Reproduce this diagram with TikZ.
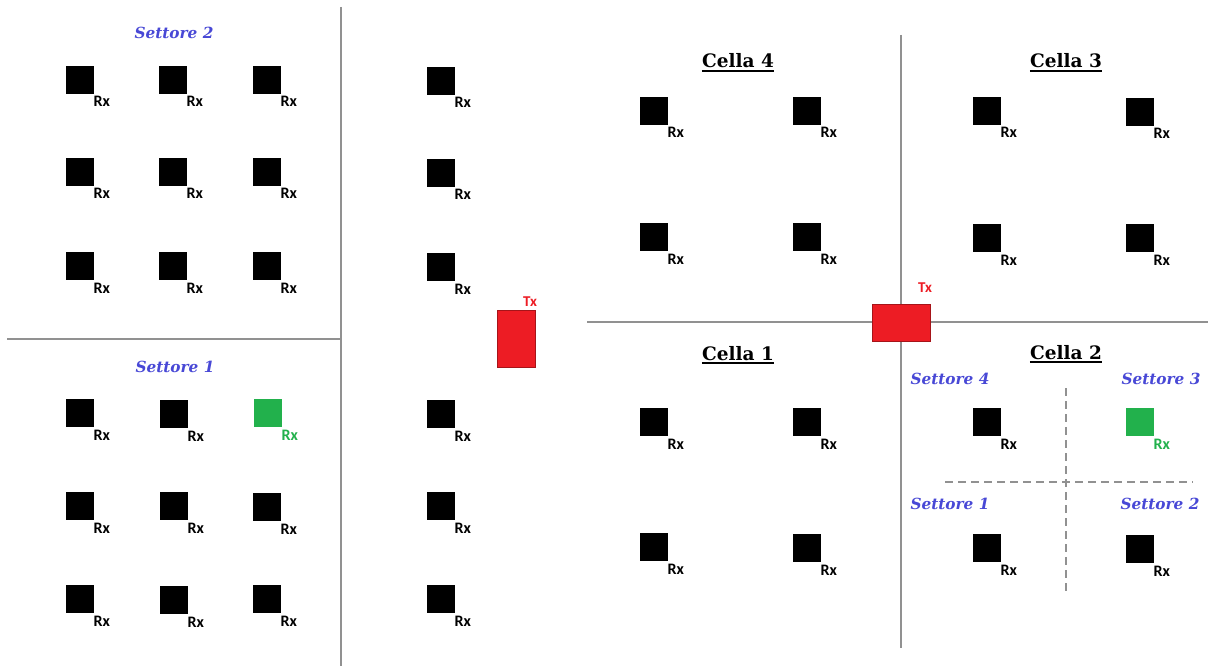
\documentclass[tikz,border=0pt]{standalone}
\usepackage{fontspec}
\newfontfamily\labelfont{Carlito}
\newfontfamily\titlefont{DejaVu Serif}

\definecolor{rxgreen}{RGB}{34,177,76}
\definecolor{txred}{RGB}{237,28,36}
\definecolor{sectblue}{RGB}{72,72,214}
\definecolor{divider}{RGB}{145,145,145}

\tikzset{
  rxbox/.style={fill=black, draw=black, line width=0.4pt, minimum size=27pt,
    inner sep=0pt, outer sep=0pt, anchor=north west},
  rxtag/.style={font=\labelfont\bfseries\fontsize{16}{16}\selectfont,
    inner sep=0pt, anchor=base west},
  txbox/.style={fill=txred, draw=txred!70!black, line width=0.6pt,
    inner sep=0pt, outer sep=0pt, anchor=north west},
  txtag/.style={font=\labelfont\bfseries\fontsize{15}{15}\selectfont,
    text=txred, inner sep=0pt, anchor=base west},
  celltitle/.style={font=\titlefont\bfseries\fontsize{18.5}{18.5}\selectfont,
    inner sep=0pt, anchor=base},
  titlerule/.style={line width=1.8pt},
  sectortitle/.style={font=\titlefont\bfseries\itshape\fontsize{15.3}{15.3}\selectfont,
    text=sectblue, inner sep=0pt, anchor=base},
  divline/.style={draw=divider, line width=1.4pt},
  sectline/.style={draw=divider, line width=1.2pt, dash pattern=on 8pt off 5pt},
}

% receiver: name, left, top, colour
\newcommand\receiver[4]{%
  \node[rxbox, fill=#4, draw=#4] (#1) at (#2,#3) {};
  \node[rxtag, text=#4] (#1-tag) at ([xshift=0.5pt,yshift=-14pt]#1.south east) {Rx};
}

% underlined cell title: name, centre x, baseline y, text
\newcommand\celltitle[4]{%
  \node[celltitle] (#1) at (#2,#3) {#4};
  \draw[titlerule] ([yshift=-3pt]#1.base west) -- ([yshift=-3pt]#1.base east);
}

\begin{document}
\begin{tikzpicture}[x=1pt, y=-1pt]
\useasboundingbox[fill=white] (0,0) rectangle (1208,666);

% ---------- dividers ----------
\coordinate (lv-top) at (341,7);
\coordinate (lv-bot) at (341,666);
\coordinate (lh-left) at (7,339);
\coordinate (lh-right) at (341,339);
\coordinate (rv-top) at (901,35);
\coordinate (rv-bot) at (901,648);
\coordinate (rh-left) at (587,322);
\coordinate (rh-right) at (1208,322);
\draw[divline] (lv-top) -- (lv-bot);
\draw[divline] (lh-left) -- (lh-right);
\draw[divline] (rv-top) -- (rv-bot);
\draw[divline] (rh-left) -- (rh-right);

% sector split inside Cella 2
\coordinate (sv-top) at (1066,388);
\coordinate (sv-bot) at (1066,593);
\coordinate (sh-left) at (945,482);
\coordinate (sh-right) at (1193,482);
\draw[sectline] (sv-top) -- (sv-bot);
\draw[sectline] (sh-left) -- (sh-right);

% ---------- left panel: two sectors ----------
\node[sectortitle] (s2) at (174,39) {Settore 2};
\node[sectortitle] (s1) at (175,372) {Settore 1};

\receiver{a11}{66}{66}{black}
\receiver{a12}{159}{66}{black}
\receiver{a13}{253}{66}{black}
\receiver{a21}{66}{158}{black}
\receiver{a22}{159}{158}{black}
\receiver{a23}{253}{158}{black}
\receiver{a31}{66}{252}{black}
\receiver{a32}{159}{252}{black}
\receiver{a33}{253}{252}{black}

\receiver{b11}{66}{399}{black}
\receiver{b12}{160}{400}{black}
\receiver{b13}{254}{399}{rxgreen}
\receiver{b21}{66}{492}{black}
\receiver{b22}{160}{492}{black}
\receiver{b23}{253}{493}{black}
\receiver{b31}{66}{585}{black}
\receiver{b32}{160}{586}{black}
\receiver{b33}{253}{585}{black}

% ---------- middle column ----------
\receiver{m1}{427}{67}{black}
\receiver{m2}{427}{159}{black}
\receiver{m3}{427}{253}{black}
\receiver{m4}{427}{400}{black}
\receiver{m5}{427}{492}{black}
\receiver{m6}{427}{585}{black}

\node[txbox, minimum width=38pt, minimum height=57pt] (txA) at (497,310) {};
\node[txtag] (txA-tag) at (523,306) {Tx};

% ---------- right panel: four cells ----------
\celltitle{c4}{738}{68}{Cella 4}
\celltitle{c3}{1066}{68}{Cella 3}
\celltitle{c1}{738}{360}{Cella 1}
\celltitle{c2}{1066}{359}{Cella 2}

\receiver{d1}{640}{97}{black}
\receiver{d2}{793}{97}{black}
\receiver{d3}{640}{223}{black}
\receiver{d4}{793}{223}{black}

\receiver{e1}{973}{97}{black}
\receiver{e2}{1126}{98}{black}
\receiver{e3}{973}{224}{black}
\receiver{e4}{1126}{224}{black}

\receiver{f1}{640}{408}{black}
\receiver{f2}{793}{408}{black}
\receiver{f3}{640}{533}{black}
\receiver{f4}{793}{534}{black}

\receiver{g1}{973}{408}{black}
\receiver{g2}{1126}{408}{rxgreen}
\receiver{g3}{973}{534}{black}
\receiver{g4}{1126}{535}{black}

\node[sectortitle] (q4) at (950,384) {Settore 4};
\node[sectortitle] (q3) at (1161,384) {Settore 3};
\node[sectortitle] (q1) at (950,509) {Settore 1};
\node[sectortitle] (q2) at (1160,509) {Settore 2};

\node[txbox, minimum width=58pt, minimum height=37pt] (txB) at (872,304) {};
\node[txtag] (txB-tag) at (918,292) {Tx};
\end{tikzpicture}
\end{document}
